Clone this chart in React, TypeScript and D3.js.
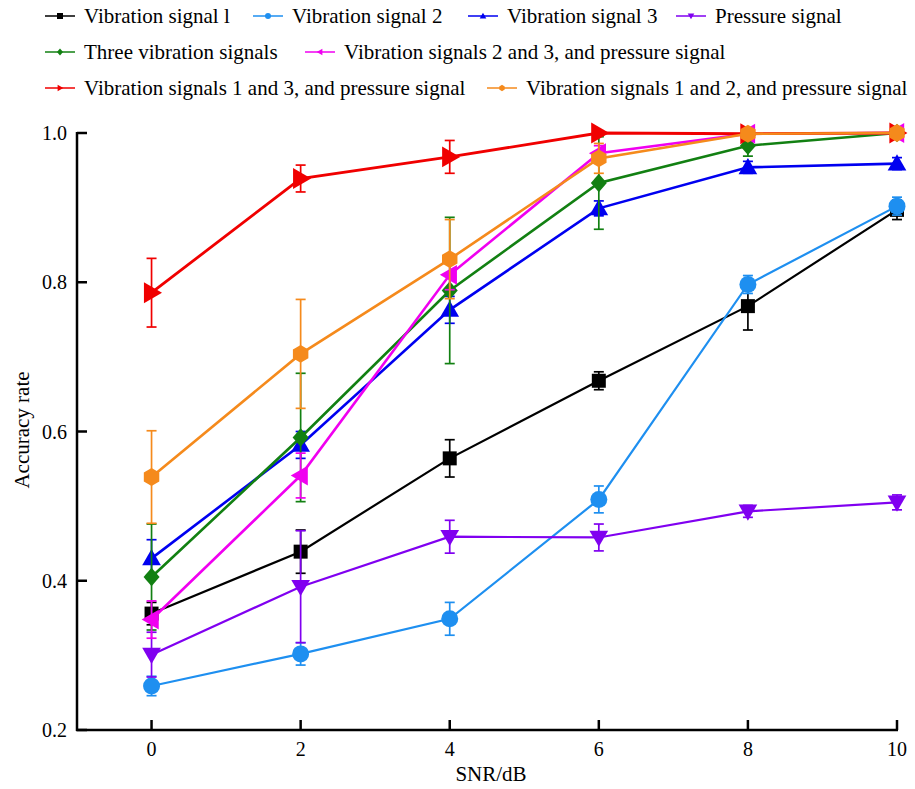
import React from "react";
import * as d3 from "d3";

const snr = [0, 2, 4, 6, 8, 10];
const xTicks = [0, 2, 4, 6, 8, 10];
const yTicks = [0.2, 0.4, 0.6, 0.8, 1.0];

const seriesNames = [
  "Vibration signal l",
  "Vibration signal 2",
  "Vibration signal 3",
  "Pressure signal",
  "Three vibration signals",
  "Vibration signals 2 and 3, and pressure signal",
  "Vibration signals 1 and 3, and pressure signal",
  "Vibration signals 1 and 2, and pressure signal",
];

const vib1 = [0.356, 0.439, 0.564, 0.668, 0.768, 0.897];
const vib1Err = [0.015, 0.029, 0.025, 0.012, 0.032, 0.013];
const vib2 = [0.259, 0.302, 0.349, 0.509, 0.797, 0.902];
const vib2Err = [0.013, 0.015, 0.022, 0.018, 0.012, 0.012];
const vib3 = [0.43, 0.582, 0.763, 0.899, 0.954, 0.959];
const vib3Err = [0.025, 0.018, 0.018, 0.01, 0.008, 0.008];
const pressure = [0.301, 0.392, 0.459, 0.458, 0.493, 0.505];
const pressureErr = [0.03, 0.075, 0.022, 0.018, 0.008, 0.01];
const threeVib = [0.405, 0.592, 0.789, 0.933, 0.983, 1.0];
const threeVibErr = [0.071, 0.086, 0.098, 0.062, 0.014, 0.003];
const vib23p = [0.348, 0.541, 0.81, 0.973, 0.999, 1.0];
const vib23pErr = [0.025, 0.03, 0.02, 0.01, 0.004, 0.003];
const vib13p = [0.786, 0.939, 0.968, 1.0, 0.999, 1.0];
const vib13pErr = [0.046, 0.018, 0.022, 0.003, 0.003, 0.003];
const vib12p = [0.539, 0.704, 0.831, 0.966, 0.999, 1.0];
const vib12pErr = [0.062, 0.073, 0.053, 0.02, 0.004, 0.003];

const seriesValues = [vib1, vib2, vib3, pressure, threeVib, vib23p, vib13p, vib12p];
const seriesErrors = [vib1Err, vib2Err, vib3Err, pressureErr, threeVibErr, vib23pErr, vib13pErr, vib12pErr];
const colors = ["#000000", "#1E8FF0", "#0000F0", "#8000F0", "#128012", "#F000F0", "#F00000", "#F58A1C"];
const markers = ["square", "circle", "triUp", "triDown", "diamond", "triLeft", "triRight", "hexagon"];
const lineWidths = [2.2, 2.2, 2.6, 2.2, 2.6, 2.6, 2.8, 2.6];

const legendPos = [
  { row: 0, x: 45 },
  { row: 0, x: 253 },
  { row: 0, x: 468 },
  { row: 0, x: 676 },
  { row: 1, x: 45 },
  { row: 1, x: 305 },
  { row: 2, x: 45 },
  { row: 2, x: 487 },
];
const legendRowY = [16, 52, 88];

function markerPath(type: string, s: number): string {
  const h = s / 2;
  switch (type) {
    case "square":
      return `M${-h},${-h}H${h}V${h}H${-h}Z`;
    case "circle":
      return `M${h},0A${h},${h} 0 1,1 ${-h},0A${h},${h} 0 1,1 ${h},0Z`;
    case "triUp":
      return `M0,${-h * 1.1}L${h * 1.1},${h * 0.8}L${-h * 1.1},${h * 0.8}Z`;
    case "triDown":
      return `M0,${h * 1.1}L${h * 1.1},${-h * 0.8}L${-h * 1.1},${-h * 0.8}Z`;
    case "triLeft":
      return `M${-h * 1.1},0L${h * 0.8},${-h * 1.1}L${h * 0.8},${h * 1.1}Z`;
    case "triRight":
      return `M${h * 1.1},0L${-h * 0.8},${-h * 1.1}L${-h * 0.8},${h * 1.1}Z`;
    case "diamond":
      return `M0,${-h * 1.15}L${h},0L0,${h * 1.15}L${-h},0Z`;
    case "hexagon": {
      const pts = d3.range(6).map((i) => {
        const a = (Math.PI / 3) * i + Math.PI / 6;
        return [Math.cos(a) * h * 1.05, Math.sin(a) * h * 1.05];
      });
      return "M" + pts.map((p) => p.join(",")).join("L") + "Z";
    }
    default:
      return "";
  }
}

const markerSizes: Record<string, number> = {
  square: 14,
  circle: 17,
  triUp: 17,
  triDown: 17,
  triLeft: 18,
  triRight: 19,
  diamond: 16,
  hexagon: 17,
};

const FONT = "'Liberation Serif', 'Times New Roman', Times, 'DejaVu Serif', serif";

export default function App() {
  const width = 915;
  const height = 789;
  const x = d3.scaleLinear().domain([-1, 10]).range([77, 897]);
  const y = d3.scaleLinear().domain([0.2, 1.0]).range([730, 133]);
  const line = d3
    .line<number>()
    .x((_, i) => x(snr[i]))
    .y((d) => y(d));
  const ts = { fontFamily: FONT };

  return (
    <svg
      width={width}
      height={height}
      style={{ position: "absolute", left: 0, top: 0, background: "#fff", fontFamily: FONT }}
    >
      <rect width={width} height={height} fill="#fff" />
      {/* Legend */}
      {seriesNames.map((name, i) => {
        const lp = legendPos[i];
        const ly = legendRowY[lp.row];
        return (
          <g key={"leg" + i}>
            <line x1={lp.x} x2={lp.x + 30} y1={ly} y2={ly} stroke={colors[i]} strokeWidth={1.5} />
            <path
              d={markerPath(markers[i], 6)}
              transform={`translate(${lp.x + 15},${ly})`}
              fill={colors[i]}
            />
            <text x={lp.x + 39} y={ly + 7} fontSize={21} fill="#000" style={ts}>
              {name}
            </text>
          </g>
        );
      })}

      {/* Axes */}
      <line x1={77} x2={77} y1={y(1.0) - 1} y2={y(0.2) + 1} stroke="#000" strokeWidth={2.5} />
      <line x1={76} x2={x(10) + 1} y1={y(0.2)} y2={y(0.2)} stroke="#000" strokeWidth={2.5} />
      {yTicks.map((t) => (
        <g key={"yt" + t}>
          <line x1={77} x2={87} y1={y(t)} y2={y(t)} stroke="#000" strokeWidth={2.5} />
          <text x={67} y={y(t) + 7} fontSize={20} textAnchor="end" fill="#000" style={ts}>
            {d3.format(".1f")(t)}
          </text>
        </g>
      ))}
      {xTicks.map((t) => (
        <g key={"xt" + t}>
          <line x1={x(t)} x2={x(t)} y1={y(0.2)} y2={y(0.2) - 10} stroke="#000" strokeWidth={2.5} />
          <text x={x(t)} y={756} fontSize={20} textAnchor="middle" fill="#000" style={ts}>
            {t}
          </text>
        </g>
      ))}
      <text x={491} y={781} fontSize={21} textAnchor="middle" fill="#000" style={ts}>
        SNR/dB
      </text>
      <text
        transform="translate(29,430) rotate(-90)"
        fontSize={21}
        textAnchor="middle"
        fill="#000"
        style={ts}
      >
        Accuracy rate
      </text>

      {/* Series */}
      {seriesValues.map((vals, si) => (
        <g key={"s" + si}>
          {vals.map((v, i) => {
            const e = seriesErrors[si][i];
            const cx = x(snr[i]);
            return (
              <g key={"e" + i} stroke={colors[si]} strokeWidth={1.7}>
                <line x1={cx} x2={cx} y1={y(v + e)} y2={y(v - e)} />
                <line x1={cx - 5} x2={cx + 5} y1={y(v + e)} y2={y(v + e)} />
                <line x1={cx - 5} x2={cx + 5} y1={y(v - e)} y2={y(v - e)} />
              </g>
            );
          })}
          <path d={line(vals) || ""} fill="none" stroke={colors[si]} strokeWidth={lineWidths[si]} />
          {vals.map((v, i) => (
            <path
              key={"m" + i}
              d={markerPath(markers[si], markerSizes[markers[si]])}
              transform={`translate(${x(snr[i])},${y(v)})`}
              fill={colors[si]}
            />
          ))}
        </g>
      ))}
    </svg>
  );
}
